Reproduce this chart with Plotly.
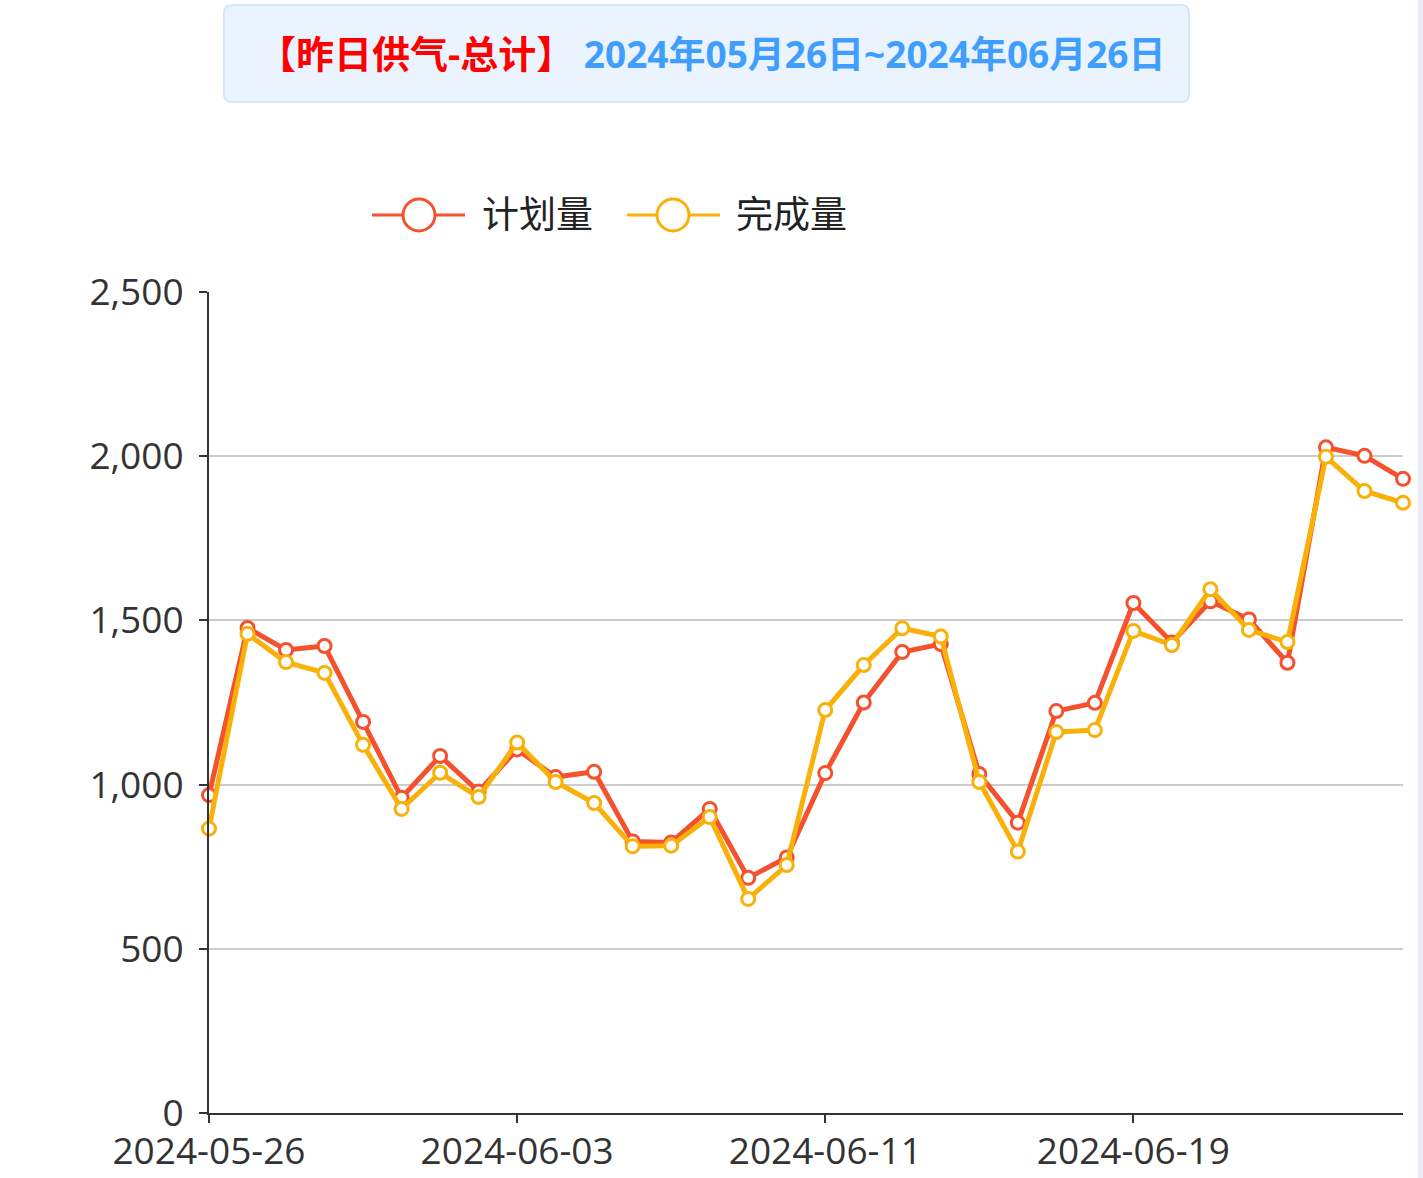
import plotly.graph_objects as go

dates = ["2024-05-26", "2024-05-27", "2024-05-28", "2024-05-29", "2024-05-30", "2024-05-31",
         "2024-06-01", "2024-06-02", "2024-06-03", "2024-06-04", "2024-06-05", "2024-06-06",
         "2024-06-07", "2024-06-08", "2024-06-09", "2024-06-10", "2024-06-11", "2024-06-12",
         "2024-06-13", "2024-06-14", "2024-06-15", "2024-06-16", "2024-06-17", "2024-06-18",
         "2024-06-19", "2024-06-20", "2024-06-21", "2024-06-22", "2024-06-23", "2024-06-24",
         "2024-06-25", "2024-06-26"]
planned = [968, 1477, 1410, 1422, 1191, 960, 1087, 979, 1107, 1023, 1039, 827, 824, 926, 716, 778,
           1035, 1250, 1404, 1428, 1032, 884, 1224, 1249, 1553, 1433, 1558, 1503, 1371, 2027, 2001, 1931]
completed = [866, 1459, 1373, 1340, 1121, 926, 1036, 962, 1128, 1008, 944, 812, 814, 901, 652, 755,
             1227, 1364, 1476, 1451, 1008, 796, 1160, 1166, 1468, 1425, 1595, 1471, 1434, 1998, 1894, 1858]
xtick_vals = ["2024-05-26", "2024-06-03", "2024-06-11", "2024-06-19"]
series_names = ["计划量", "完成量"]
colors = ["#F4512C", "#F9B009"]

W, H = 1423, 1178
L, R, T, B = 209, 1403, 292, 1113
FONT = "Open Sans, Noto Sans CJK SC, sans-serif"


def px(x):
    return (x - L) / (R - L)


def py(y):
    return (B - y) / (B - T)


fig = go.Figure()
for name, vals, c in zip(series_names, [planned, completed], colors):
    fig.add_trace(go.Scatter(
        x=dates, y=vals, name=name, mode="lines+markers",
        line=dict(color=c, width=5),
        marker=dict(symbol="circle", size=13, color="white", line=dict(color=c, width=3)),
        cliponaxis=False,
    ))

shapes = []
# title box with rounded corners
x0, x1, y0, y1, r = 224, 1189, 5, 102, 8
path = (f"M {px(x0 + r)} {py(y0)} L {px(x1 - r)} {py(y0)} Q {px(x1)} {py(y0)} {px(x1)} {py(y0 + r)} "
        f"L {px(x1)} {py(y1 - r)} Q {px(x1)} {py(y1)} {px(x1 - r)} {py(y1)} "
        f"L {px(x0 + r)} {py(y1)} Q {px(x0)} {py(y1)} {px(x0)} {py(y1 - r)} "
        f"L {px(x0)} {py(y0 + r)} Q {px(x0)} {py(y0)} {px(x0 + r)} {py(y0)} Z")
shapes.append(dict(type="path", xref="paper", yref="paper", path=path,
                   fillcolor="#EBF4FE", line=dict(color="#D3E6FB", width=2), layer="below"))
# right edge strip
shapes.append(dict(type="rect", xref="paper", yref="paper", x0=px(1418), x1=px(1424), y0=py(1178), y1=py(0),
                   fillcolor="#E8EBF3", line=dict(width=0)))

annotations = [dict(
    xref="paper", yref="paper", x=px(712), y=py(53), xanchor="center", yanchor="middle", showarrow=False,
    text="<b><span style='color:#FF0000;font-size:38px'>【昨日供气-总计】</span> <span style='color:#409EFF'>2024年05月26日~2024年06月26日</span></b>",
    font=dict(family=FONT, size=37),
)]

# custom legend
legend_items = [(372, 465, 419, 483), (627, 720, 673, 737)]
for (lx0, lx1, cx, tx), name, c in zip(legend_items, series_names, colors):
    ly = 215
    shapes.append(dict(type="line", xref="paper", yref="paper", x0=px(lx0), x1=px(lx1), y0=py(ly), y1=py(ly),
                       line=dict(color=c, width=3)))
    rr = 16
    shapes.append(dict(type="circle", xref="paper", yref="paper", x0=px(cx - rr), x1=px(cx + rr),
                       y0=py(ly + rr), y1=py(ly - rr), fillcolor="white", line=dict(color=c, width=3)))
    annotations.append(dict(xref="paper", yref="paper", x=px(tx - 3), y=py(ly - 2), xanchor="left", yanchor="middle",
                            showarrow=False, text=name, font=dict(family=FONT, size=37, color="#222")))

fig.update_layout(
    width=W, height=H,
    margin=dict(l=L, r=W - R, t=T, b=H - B, pad=0),
    paper_bgcolor="white", plot_bgcolor="white",
    showlegend=False,
    shapes=shapes, annotations=annotations,
    font=dict(family=FONT, color="#333"),
    xaxis=dict(
        type="date", range=["2024-05-26", "2024-06-26"],
        tickvals=xtick_vals, ticktext=xtick_vals,
        showgrid=False, showline=True, linecolor="#333", linewidth=2,
        ticks="outside", ticklen=8, tickwidth=2, tickcolor="#333",
        tickfont=dict(family=FONT, size=37, color="#333"),
        ticklabelstandoff=-3,
        zeroline=False, automargin=False,
    ),
    yaxis=dict(
        range=[0, 2500], dtick=500, tickformat=",",
        showgrid=True, gridcolor="#CCCCCC", gridwidth=2,
        showline=True, linecolor="#333", linewidth=2,
        ticks="outside", ticklen=8, tickwidth=2, tickcolor="#333",
        tickfont=dict(family=FONT, size=37, color="#333"),
        ticklabelstandoff=8,
        zeroline=False, automargin=False,
    ),
)

fig.write_html("out.html", config={"displayModeBar": False},
               post_script="document.body.style.margin='0px';document.body.style.overflow='hidden';")
